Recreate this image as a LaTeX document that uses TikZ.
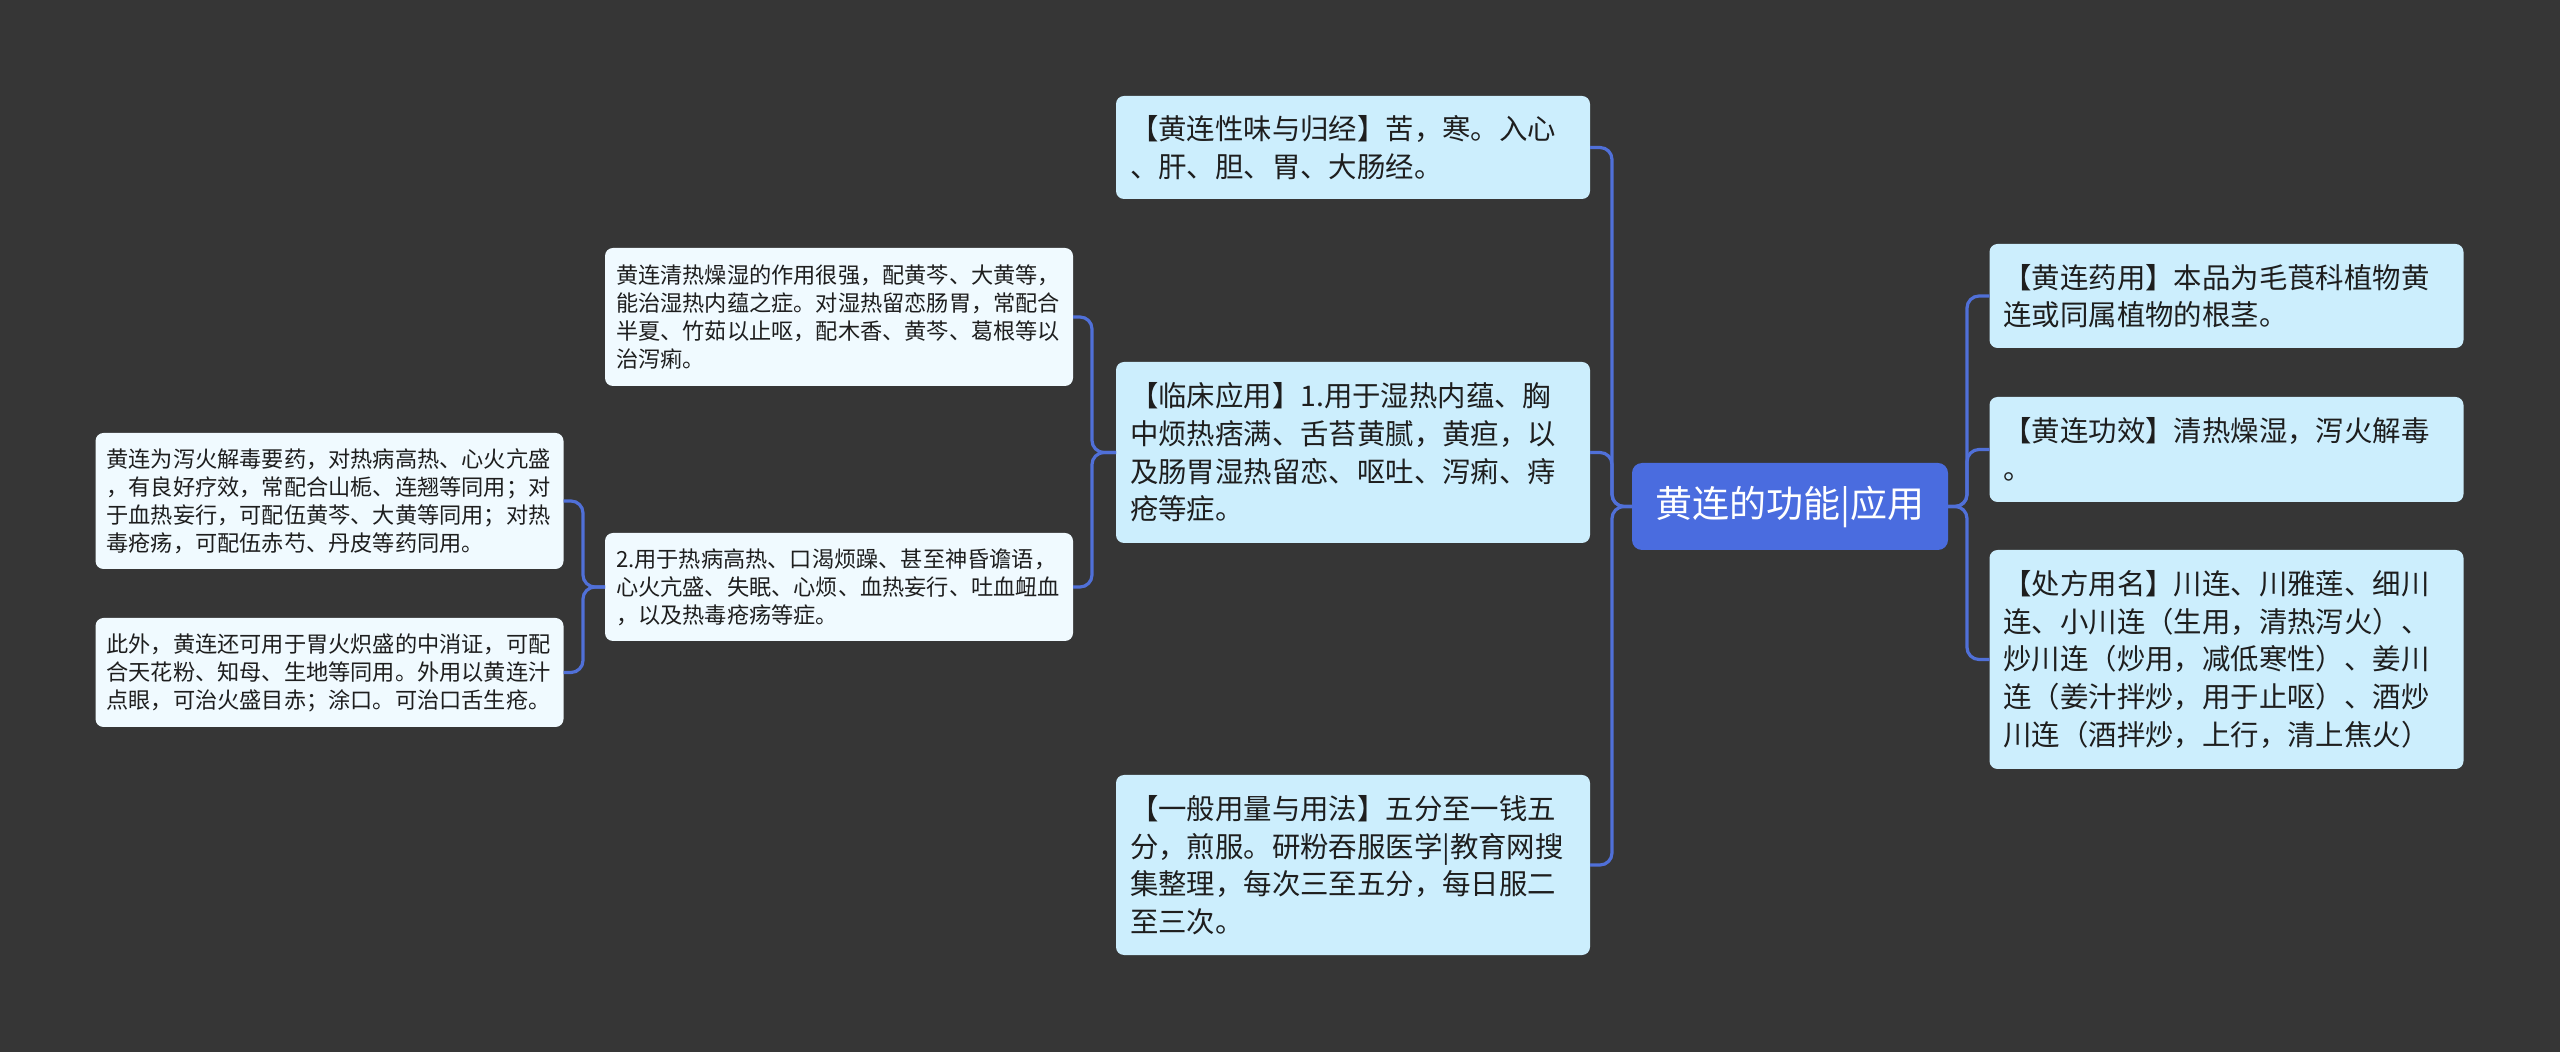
\documentclass[tikz,border=0pt]{standalone}
\usepackage{fontspec}
\newfontfamily\cjk{Noto Sans CJK SC}
\definecolor{bg}{HTML}{363636}
\definecolor{boxA}{HTML}{CCEEFD}
\definecolor{boxB}{HTML}{F0FAFF}
\definecolor{mainc}{HTML}{4A6CDF}
\definecolor{linec}{HTML}{5070D8}
\definecolor{txt}{HTML}{1E1E1E}
\begin{document}
\begin{tikzpicture}[x=0.5pt,y=-0.5pt,
  big/.style={rectangle, rounded corners=4pt, fill=boxA, text=txt,
    font=\cjk\fontsize{14.2pt}{18.8pt}\selectfont, align=left,
    inner xsep=7pt, inner ysep=0pt, outer sep=0pt, text width=223pt, minimum width=237pt},
  small/.style={rectangle, rounded corners=4pt, fill=boxB, text=txt,
    font=\cjk\fontsize{11.1pt}{14pt}\selectfont, align=left,
    inner xsep=5.5pt, inner ysep=0pt, outer sep=0pt, text width=223pt, minimum width=234pt},
  mainbox/.style={rectangle, rounded corners=5pt, fill=mainc, text=white,
    font=\cjk\fontsize{18.5pt}{22pt}\selectfont, inner sep=0pt, outer sep=0pt,
    minimum width=158pt, minimum height=43.5pt},
  conn/.style={draw=linec, line width=1.6pt, rounded corners=6pt}
]
\fill[bg] (0,0) rectangle (2560,1052);
\useasboundingbox (0,0) rectangle (2560,1052);

\node[mainbox] (c) at (1790,506.5) {黄连的功能|应用};

\node[big, minimum height=51.5pt] (xw) at (1353,147.5) {【黄连性味与归经】苦，寒。入心\\、肝、胆、胃、大肠经。};
\node[big, minimum height=90.5pt] (lc) at (1353,452.5) {【临床应用】1.用于湿热内蕴、胸\\中烦热痞满、舌苔黄腻，黄疸，以\\及肠胃湿热留恋、呕吐、泻痢、痔\\疮等症。};
\node[big, minimum height=90pt] (yl) at (1353,865) {【一般用量与用法】五分至一钱五\\分，煎服。研粉吞服医学|教育网搜\\集整理，每次三至五分，每日服二\\至三次。};

\node[big, minimum height=52pt] (yy) at (2226.5,296) {【黄连药用】本品为毛莨科植物黄\\连或同属植物的根茎。};
\node[big, minimum height=52.5pt] (gx) at (2226.5,449.5) {【黄连功效】清热燥湿，泻火解毒\\。};
\node[big, minimum height=109.5pt] (cf) at (2226.5,659.5) {【处方用名】川连、川雅莲、细川\\连、小川连（生用，清热泻火）、\\炒川连（炒用，减低寒性）、姜川\\连（姜汁拌炒，用于止呕）、酒炒\\川连（酒拌炒，上行，清上焦火）};

\node[small, minimum height=69pt] (s1) at (839,317) {黄连清热燥湿的作用很强，配黄芩、大黄等，\\能治湿热内蕴之症。对湿热留恋肠胃，常配合\\半夏、竹茹以止呕，配木香、黄芩、葛根等以\\治泻痢。};
\node[small, minimum height=54pt] (s2) at (839,587) {2.用于热病高热、口渴烦躁、甚至神昏谵语，\\心火亢盛、失眠、心烦、血热妄行、吐血衄血\\，以及热毒疮疡等症。};

\node[small, minimum height=68pt] (f1) at (329.5,501) {黄连为泻火解毒要药，对热病高热、心火亢盛\\，有良好疗效，常配合山栀、连翘等同用；对\\于血热妄行，可配伍黄芩、大黄等同用；对热\\毒疮疡，可配伍赤芍、丹皮等药同用。};
\node[small, minimum height=54.5pt] (f2) at (329.5,672.5) {此外，黄连还可用于胃火炽盛的中消证，可配\\合天花粉、知母、生地等同用。外用以黄连汁\\点眼，可治火盛目赤；涂口。可治口舌生疮。};

\draw[conn] (c.west) -- ++(-20,0) |- (xw.east);
\draw[conn] (c.west) -- ++(-20,0) |- (lc.east);
\draw[conn] (c.west) -- ++(-20,0) |- (yl.east);
\draw[conn] (c.east) -- ++(19,0) |- (yy.west);
\draw[conn] (c.east) -- ++(19,0) |- (gx.west);
\draw[conn] (c.east) -- ++(19,0) |- (cf.west);
\draw[conn] (lc.west) -- ++(-24,0) |- (s1.east);
\draw[conn] (lc.west) -- ++(-24,0) |- (s2.east);
\draw[conn] (s2.west) -- ++(-22,0) |- (f1.east);
\draw[conn] (s2.west) -- ++(-22,0) |- (f2.east);
\end{tikzpicture}
\end{document}
